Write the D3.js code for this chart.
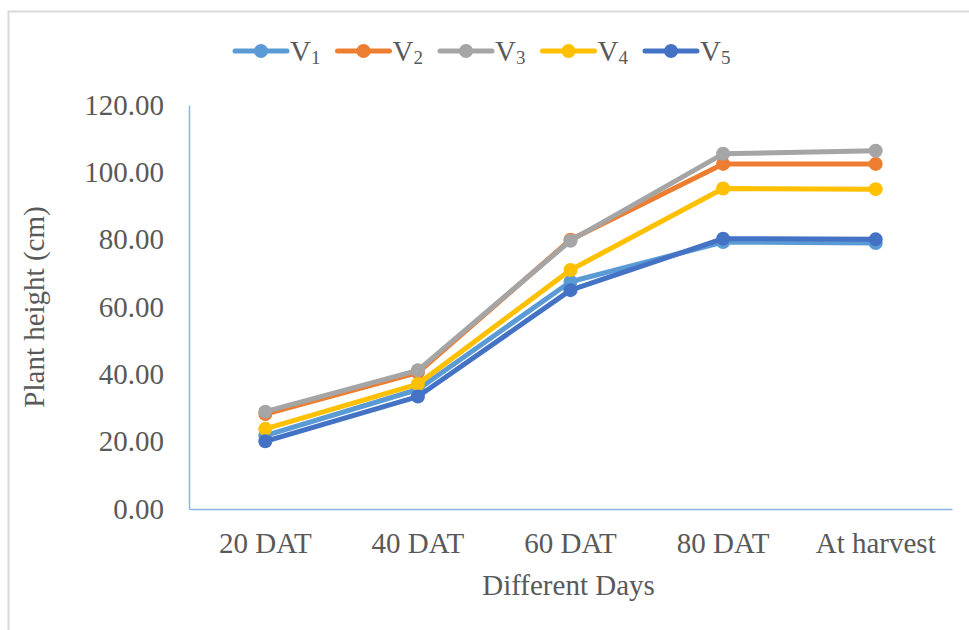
<!DOCTYPE html>
<html>
<head>
<meta charset="utf-8">
<script src="https://cdn.jsdelivr.net/npm/d3@7"></script>
<style>
  body { margin: 0; background: #fff; }
  svg text { font-family: "Liberation Serif", "Times New Roman", "DejaVu Serif", serif; fill: #595959; }
</style>
</head>
<body>
<div id="chart"></div>
<script>
// data
var categories = ["20 DAT", "40 DAT", "60 DAT", "80 DAT", "At harvest"];
var seriesNames = ["1", "2", "3", "4", "5"];   // subscripts of V
var v1 = [21.8, 35.5, 67.5, 79.3, 79.0];
var v2 = [28.2, 40.5, 80.0, 102.5, 102.5];
var v3 = [28.9, 41.2, 79.7, 105.5, 106.4];
var v4 = [23.8, 37.1, 71.0, 95.2, 95.0];
var v5 = [20.1, 33.4, 65.0, 80.3, 80.1];
var yTicks = [0, 20, 40, 60, 80, 100, 120];

var colors = ["#5B9BD5", "#ED7D31", "#A5A5A5", "#FFC000", "#4472C4"];
var series = [v1, v2, v3, v4, v5];
var serif = "'Liberation Serif', 'Times New Roman', 'DejaVu Serif', serif";

var W = 969, H = 630;
var margin = { top: 105, right: 17, bottom: 121, left: 189 },
    width = W - margin.left - margin.right,
    height = H - margin.top - margin.bottom;

var svg = d3.select("#chart").append("svg")
    .attr("width", W)
    .attr("height", H);

// outer chart border
svg.append("rect")
    .attr("x", 8.5).attr("y", 11.5)
    .attr("width", W + 20).attr("height", H + 20)
    .attr("fill", "none")
    .attr("stroke", "#D9D9D9")
    .attr("stroke-width", 2);

var g = svg.append("g")
    .attr("transform", "translate(" + margin.left + "," + margin.top + ")");

var x = d3.scaleBand().domain(categories).range([0, width]);
var y = d3.scaleLinear().domain([0, 120]).range([height, 0]);

// y axis
var yAxis = g.append("g")
    .call(d3.axisLeft(y).tickValues(yTicks).tickSize(0).tickPadding(25)
        .tickFormat(function(d) { return d3.format(".2f")(d); }));
yAxis.attr("font-family", serif);
yAxis.select(".domain").attr("stroke", "#8DB3E2").attr("stroke-width", 1.5);
yAxis.selectAll("text").style("font-size", "29px").attr("fill", "#595959")
    .style("font-family", serif);

// x axis
var xAxis = g.append("g")
    .attr("transform", "translate(0," + height + ")")
    .call(d3.axisBottom(x).tickSize(0).tickPadding(23));
xAxis.attr("font-family", serif);
xAxis.select(".domain").attr("stroke", "#8DB3E2").attr("stroke-width", 1.5);
xAxis.selectAll("text").style("font-size", "29px").attr("fill", "#595959")
    .style("font-family", serif);

// axis titles
svg.append("text")
    .attr("transform", "translate(34," + (margin.top + height / 2) + ") rotate(-90)")
    .attr("text-anchor", "middle")
    .attr("dy", "0.35em")
    .style("font-size", "29px")
    .style("font-family", serif)
    .text("Plant height (cm)");

svg.append("text")
    .attr("x", margin.left + width / 2 - 2)
    .attr("y", 595)
    .attr("text-anchor", "middle")
    .style("font-size", "29px")
    .style("font-family", serif)
    .text("Different Days");

// lines
var line = d3.line()
    .x(function(d, i) { return x(categories[i]) + x.bandwidth() / 2; })
    .y(function(d) { return y(d); });

series.forEach(function(s, k) {
    g.append("path")
        .datum(s)
        .attr("d", line)
        .attr("fill", "none")
        .attr("stroke", colors[k])
        .attr("stroke-width", 5)
        .attr("stroke-linejoin", "round")
        .attr("stroke-linecap", "round");

    g.selectAll(".pt" + k)
        .data(s)
        .enter().append("circle")
        .attr("class", "pt" + k)
        .attr("cx", function(d, i) { return x(categories[i]) + x.bandwidth() / 2; })
        .attr("cy", function(d) { return y(d); })
        .attr("r", 7)
        .attr("fill", colors[k]);
});

// legend
var legend = svg.append("g").attr("transform", "translate(235,51)");
var item = legend.selectAll(".item")
    .data(seriesNames)
    .enter().append("g")
    .attr("class", "item")
    .attr("transform", function(d, i) { return "translate(" + (i * 102.5) + ",0)"; });

item.append("line")
    .attr("x1", 0).attr("x2", 52)
    .attr("stroke", function(d, i) { return colors[i]; })
    .attr("stroke-width", 5)
    .attr("stroke-linecap", "round");
item.append("circle")
    .attr("cx", 26).attr("r", 7)
    .attr("fill", function(d, i) { return colors[i]; });

var lt = item.append("text")
    .attr("x", 55)
    .attr("y", 10)
    .style("font-size", "29px")
    .style("font-family", serif);
lt.append("tspan").text("V");
lt.append("tspan")
    .attr("dy", 3)
    .style("font-size", "19px")
    .text(function(d) { return d; });
</script>
</body>
</html>
